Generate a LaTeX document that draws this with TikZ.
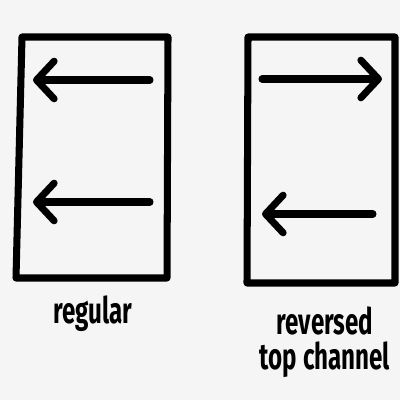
\documentclass[tikz,border=0pt]{standalone}
\usepackage{fontspec}
\setmainfont{Fira Sans}[FakeStretch=0.66]
\usetikzlibrary{arrows.meta, positioning}

\begin{document}
\begin{tikzpicture}[
    x=0.025cm, y=-0.025cm,
    frame/.style={line width=5pt, line join=round, line cap=round},
    flow/.style={line width=5pt, line cap=round,
        -{Straight Barb[length=4.4mm, width=9.4mm, line cap=round, line join=round]}},
    caption/.style={font=\fontsize{26}{25}\selectfont\bfseries, align=center, inner sep=0pt}
]
    % fond
    \fill[black!4] (0,0) rectangle (400,400);
    \useasboundingbox (0,0) rectangle (400,400);

    % canal normal (gauche)
    \draw[frame] (22,37) -- (168,37) -- (167,278) -- (16,278) -- cycle;
    \coordinate (lt1) at (150,80);  \coordinate (lh1) at (33,80);
    \coordinate (lt2) at (150,202); \coordinate (lh2) at (33,202);
    \draw[flow] (lt1) -- (lh1);
    \draw[flow] (lt2) -- (lh2);
    \node[caption] (regular) at (93,314) {regular};

    % canal du haut inversé (droite)
    \draw[frame] (248,37) -- (395,37) -- (395,283) -- (247,283) -- cycle;
    \coordinate (rt1) at (262,79);  \coordinate (rh1) at (382,79);
    \coordinate (rt2) at (373,214); \coordinate (rh2) at (262,214);
    \draw[flow] (rt1) -- (rh1);
    \draw[flow] (rt2) -- (rh2);
    \node[caption] (reversed) at (325,342) {reversed\\top channel};
\end{tikzpicture}
\end{document}
